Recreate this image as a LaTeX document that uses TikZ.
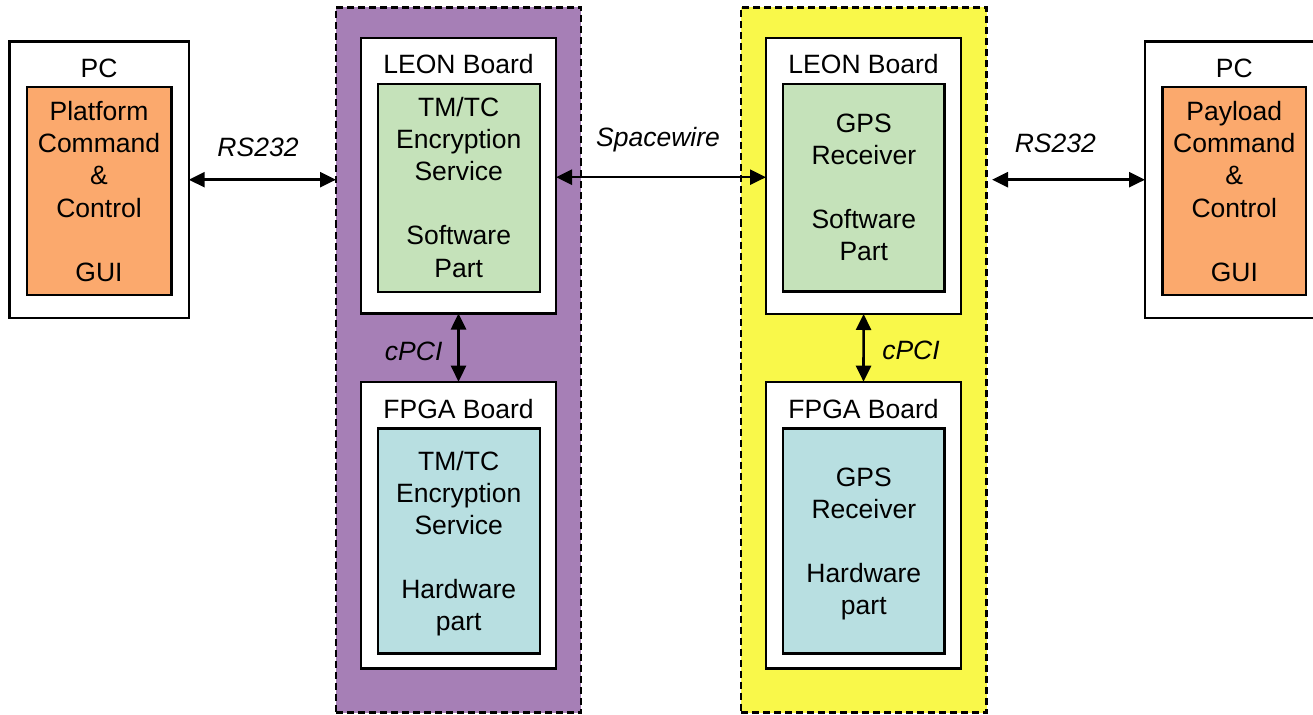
\documentclass[tikz,border=0pt]{standalone}
\usepackage{fontspec}
\setmainfont{Liberation Sans}
\usetikzlibrary{arrows.meta}

\definecolor{purpleregion}{RGB}{166,127,182}
\definecolor{yellowregion}{RGB}{249,248,74}
\definecolor{guiorange}{RGB}{251,169,109}
\definecolor{swgreen}{RGB}{197,226,186}
\definecolor{hwcyan}{RGB}{184,223,225}

% rectangle node from its corners: name, x1, y1, x2, y2, style
\newcommand\blk[6]{%
  \node[frame,#6,minimum width={(#4-#2)*1pt},minimum height={(#5-#3)*1pt}]
    (#1) at ({(#2+#4)/2},{(#3+#5)/2}) {};}
% centred lines of text: name, x, first baseline, list of lines
\newcommand\textlines[4]{%
  \foreach \t [count=\i] in {#4}
    \node[txt,name=#1-\i] at (#2,{#3+(\i-1)*32.1}) {\t};}

\begin{document}
\begin{tikzpicture}[x=1pt,y=-1pt,
  frame/.style={draw=black,line width=2.4pt,inner sep=0pt,outer sep=0pt,fill=white},
  region/.style={frame,line width=2.4pt,dash pattern=on 7pt off 4pt},
  link/.style={line width=2.6pt,{Triangle[length=16pt,width=15pt]}-{Triangle[length=16pt,width=15pt]}},
  txt/.style={anchor=base,inner sep=0pt,font=\fontsize{26.5}{32}\selectfont},
  lbl/.style={txt,font=\fontsize{26.5}{32}\selectfont\itshape}]
\useasboundingbox (0,0) rectangle (1313,714);

% ground side: platform PC
\blk{pcL}{9.6}{41.7}{188.7}{317.7}{}
\blk{guiL}{26.8}{87.3}{171.4}{294.7}{fill=guiorange}
\node[txt] (pcLt) at (99,77.3) {PC};
\textlines{guiLt}{99}{120.7}{Platform,Command,\&,Control,,GUI}

% TM/TC encryption unit
\blk{unitL}{336}{7.5}{581}{712.5}{region,fill=purpleregion}
\blk{leonL}{361}{38.3}{556}{313.5}{}
\blk{swL}{377.7}{84}{539.7}{291.7}{fill=swgreen}
\blk{fpgaL}{361}{381.7}{556}{668.3}{}
\blk{hwL}{377.7}{428.3}{540}{653.3}{fill=hwcyan}
\node[txt] (leonLt) at (458.5,74) {LEON Board};
\node[txt] (fpgaLt) at (458.5,418) {FPGA Board};
\textlines{swLt}{458.7}{116.5}{TM/TC,Encryption,Service,,Software,Part}
\textlines{hwLt}{458.7}{470}{TM/TC,Encryption,Service,,Hardware,part}

% GPS receiver unit
\blk{unitR}{741}{7.5}{986.5}{712.5}{region,fill=yellowregion}
\blk{leonR}{766}{38.3}{961.2}{314}{}
\blk{swR}{783.2}{84}{944.5}{291.5}{fill=swgreen}
\blk{fpgaR}{766}{381.7}{961}{668.3}{}
\blk{hwR}{783.2}{428.3}{944.3}{653.3}{fill=hwcyan}
\node[txt] (leonRt) at (863.6,74) {LEON Board};
\node[txt] (fpgaRt) at (863.6,418) {FPGA Board};
\textlines{swRt}{863.8}{132.5}{GPS,Receiver,,Software,Part}
\textlines{hwRt}{863.8}{486}{GPS,Receiver,,Hardware,part}

% payload PC
\blk{pcR}{1145}{41.7}{1323}{317.7}{}
\blk{guiR}{1162.5}{87.3}{1306}{294.7}{fill=guiorange}
\node[txt] (pcRt) at (1234.3,77.3) {PC};
\textlines{guiRt}{1234.3}{120.7}{Payload,Command,\&,Control,,GUI}

% links
\coordinate (rsRend) at ([xshift=5.5pt]pcR.west -| unitR.east);
\coordinate (spwL) at ([yshift=-1.3pt]leonL.east);
\draw[link] (pcL.east) -- (pcL.east -| unitL.west);
\draw[link] (rsRend) -- (pcR.west);
\draw[link] (spwL) -- (spwL -| leonR.west);
\draw[link] (leonL.south) -- (fpgaL.north);
\draw[link] (leonR.south) -- (fpgaR.north);

\node[lbl] (rsL) at (258,157) {RS232};
\node[lbl] (rsR) at (1055.3,153) {RS232};
\node[lbl] (spw) at (658,146.5) {Spacewire};
\node[lbl] (pciL) at (413.7,360) {cPCI};
\node[lbl] (pciR) at (911,359.5) {cPCI};
\end{tikzpicture}
\end{document}
